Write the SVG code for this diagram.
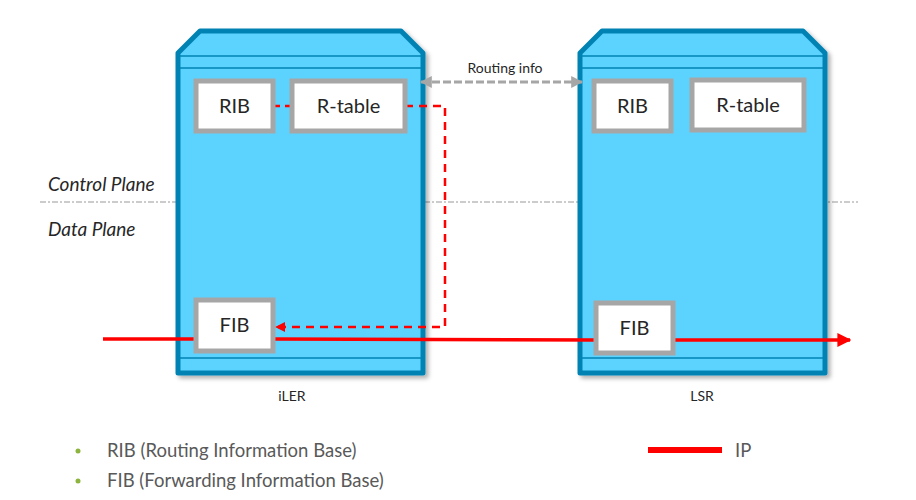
<svg xmlns="http://www.w3.org/2000/svg" width="916" height="500" viewBox="0 0 916 500">
<style>
.dev{fill:#5BD3FF;stroke:#0083B3;stroke-width:5;stroke-linejoin:round}
.inl{stroke:#0083B3;stroke-width:1.5;fill:none}
.box{fill:#fff;stroke:#A6A6A6;stroke-width:5}
.bt{font-family:Lato,"Liberation Sans",sans-serif;font-size:20px;fill:#262626;text-anchor:middle}
.lab{font-family:Lato,"Liberation Sans",sans-serif;font-size:14px;fill:#262626;text-anchor:middle}
.pl{font-family:Lato,"Liberation Sans",sans-serif;font-size:19px;font-style:italic;fill:#262626}
.leg{font-family:Lato,"Liberation Sans",sans-serif;font-size:18.5px;fill:#595959}
</style>
<defs>
<filter id="sh" x="-10%" y="-10%" width="130%" height="130%">
<feDropShadow dx="3" dy="3" stdDeviation="2" flood-color="#000" flood-opacity="0.3"/>
</filter>
<marker id="ra" viewBox="0 0 10 10" refX="9" refY="5" markerWidth="4" markerHeight="4" orient="auto-start-reverse"><path d="M0,0L10,5L0,10z" fill="#FF0000"/></marker>
<marker id="ga" viewBox="0 0 10 10" refX="9" refY="5" markerWidth="4" markerHeight="4" orient="auto-start-reverse"><path d="M0,0L10,5L0,10z" fill="#A6A6A6"/></marker>
</defs>
<line x1="40" y1="202" x2="858" y2="202" stroke="#999" stroke-width="1" stroke-dasharray="6,2,2,2"/>
<text class="pl" x="48" y="191">Control Plane</text>
<text class="pl" x="48" y="236">Data Plane</text>
<g id="iLER">
<path class="dev" filter="url(#sh)" d="M178,373V53L200,31H401L423,53V373Z"/>
<line class="inl" x1="180" y1="56" x2="421" y2="56"/>
<line class="inl" x1="180" y1="68" x2="421" y2="68"/>
<line class="inl" x1="180" y1="358" x2="421" y2="358"/>
<text class="lab" x="292" y="401">iLER</text>
</g>
<g id="LSR">
<path class="dev" filter="url(#sh)" d="M580,373V53L602,31H803L825,53V373Z"/>
<line class="inl" x1="582" y1="56" x2="823" y2="56"/>
<line class="inl" x1="582" y1="68" x2="823" y2="68"/>
<line class="inl" x1="582" y1="358" x2="823" y2="358"/>
<text class="lab" x="702" y="401">LSR</text>
</g>
<g id="connectors">
<line x1="103" y1="339" x2="196" y2="339" stroke="#FF0000" stroke-width="3.5"/>
<line x1="273" y1="339" x2="596" y2="340" stroke="#FF0000" stroke-width="3.5"/>
<line x1="673" y1="340" x2="850" y2="340" stroke="#FF0000" stroke-width="3.5" marker-end="url(#ra)"/>
<line x1="273" y1="106" x2="292" y2="106" stroke="#FF0000" stroke-width="2.5" stroke-dasharray="7,5"/>
<polyline points="405,106 445,106 445,327 276,327" fill="none" stroke="#FF0000" stroke-width="2.5" stroke-dasharray="8,6" marker-end="url(#ra)"/>
<line x1="421" y1="82" x2="582" y2="82" stroke="#A6A6A6" stroke-width="3" stroke-dasharray="8,3" marker-start="url(#ga)" marker-end="url(#ga)"/>
<text x="505" y="73" font-family="Lato,'Liberation Sans',sans-serif" font-size="14" fill="#262626" text-anchor="middle">Routing info</text>
</g>
<g id="RIB1"><rect class="box" x="196" y="81" width="77" height="50"/><text class="bt" x="234.5" y="113">RIB</text></g>
<g id="Rtable1"><rect class="box" x="292" y="81" width="113" height="50"/><text class="bt" x="348.5" y="113">R-table</text></g>
<g id="RIB2"><rect class="box" x="594" y="81" width="77" height="50"/><text class="bt" x="632.5" y="113">RIB</text></g>
<g id="Rtable2"><rect class="box" x="692" y="80" width="112" height="50"/><text class="bt" x="748" y="112">R-table</text></g>
<g id="FIB1"><rect class="box" x="196" y="300" width="77" height="51"/><text class="bt" x="234.5" y="332">FIB</text></g>
<g id="FIB2"><rect class="box" x="596" y="303" width="77" height="50"/><text class="bt" x="634.5" y="335">FIB</text></g>
<g id="legend">
<circle cx="78" cy="451" r="2.5" fill="#8DB43E"/>
<circle cx="78" cy="481" r="2.5" fill="#8DB43E"/>
<text class="leg" x="107" y="457">RIB (Routing Information Base)</text>
<text class="leg" x="107" y="487">FIB (Forwarding Information Base)</text>
<line x1="648" y1="450" x2="722" y2="450" stroke="#FF0000" stroke-width="6"/>
<text class="leg" x="735" y="457">IP</text>
</g>
</svg>
